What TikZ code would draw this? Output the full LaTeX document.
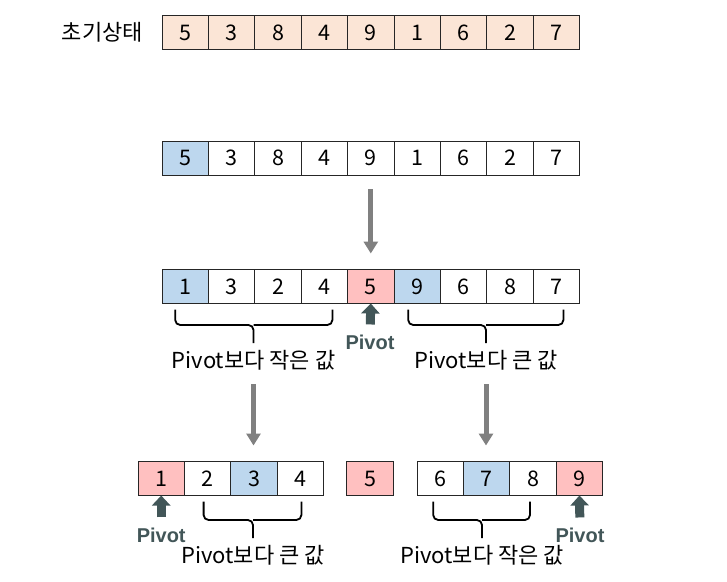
\documentclass[tikz,border=0pt]{standalone}
\usepackage{fontspec}
\setmainfont{Noto Sans CJK KR}
\newfontfamily\pivfont{Liberation Sans}
\usetikzlibrary{positioning,arrows.meta,calc}

\definecolor{peach}{HTML}{FBE5D6}
\definecolor{keyblue}{HTML}{BDD7EE}
\definecolor{pivpink}{HTML}{FFC0C0}
\definecolor{arrowgray}{HTML}{808080}
\definecolor{pivdark}{RGB}{66,86,88}

\begin{document}
\begin{tikzpicture}[
    x=1pt, y=-1pt,
    font=\fontsize{21.5}{26}\selectfont,
    cell/.style={draw=black!85, line width=0.9pt, minimum width=46.4pt, minimum height=34pt, inner sep=0pt, outer sep=0pt},
    init/.style={cell, fill=peach},
    key/.style={cell, fill=keyblue},
    piv/.style={cell, fill=pivpink},
    edge/.style={-{Triangle[width=14pt,length=12pt]}, line width=5pt, draw=arrowgray, shorten <=14pt, shorten >=16pt},
    pivarrow/.style={-{Triangle[width=18pt,length=10pt]}, line width=9pt, draw=pivdark, shorten <=10pt, shorten >=0pt},
    pivot/.style={font=\pivfont\bfseries\fontsize{20}{24}\selectfont, text=pivdark, inner sep=0pt},
    brace/.style={line width=1.8pt, rounded corners=5pt},
    note/.style={inner sep=0pt, font=\fontsize{22}{26}\selectfont}
]
\useasboundingbox (0,0) rectangle (727,581);

% initial state
\node[init] (i1) at (185.2,32.5) {5};
\node[init, right=0pt of i1] (i2) {3};
\node[init, right=0pt of i2] (i3) {8};
\node[init, right=0pt of i3] (i4) {4};
\node[init, right=0pt of i4] (i5) {9};
\node[init, right=0pt of i5] (i6) {1};
\node[init, right=0pt of i6] (i7) {6};
\node[init, right=0pt of i7] (i8) {2};
\node[init, right=0pt of i8] (i9) {7};
\node[note, left=19pt of i1] (title) {초기상태};

% choose key
\node[key] (a1) at (185.2,158) {5};
\node[cell, right=0pt of a1] (a2) {3};
\node[cell, right=0pt of a2] (a3) {8};
\node[cell, right=0pt of a3] (a4) {4};
\node[cell, right=0pt of a4] (a5) {9};
\node[cell, right=0pt of a5] (a6) {1};
\node[cell, right=0pt of a6] (a7) {6};
\node[cell, right=0pt of a7] (a8) {2};
\node[cell, right=0pt of a8] (a9) {7};

% first partition
\node[key] (b1) at (185.2,286.5) {1};
\node[cell, right=0pt of b1] (b2) {3};
\node[cell, right=0pt of b2] (b3) {2};
\node[cell, right=0pt of b3] (b4) {4};
\node[piv, right=0pt of b4] (b5) {5};
\node[key, right=0pt of b5] (b6) {9};
\node[cell, right=0pt of b6] (b7) {6};
\node[cell, right=0pt of b7] (b8) {8};
\node[cell, right=0pt of b8] (b9) {7};

\node[pivot] (pvA) at (370,342) {Pivot};
\draw[pivarrow] (pvA.north) -- (b5.south);

\coordinate (tipA) at (253.5,343);
\draw[brace] ($(b1.south)+(-10,6)$) |- ($(tipA)+(0,-18)$) -- (tipA);
\draw[brace] ($(b4.south)+(8,6)$) |- ($(tipA)+(0,-18)$);
\node[note, below=7pt of tipA] (lowA) {Pivot보다 작은 값};

\coordinate (tipB) at (486,343);
\draw[brace] ($(b6.south)+(-9,6)$) |- ($(tipB)+(0,-18)$) -- (tipB);
\draw[brace] ($(b9.south)+(7,6)$) |- ($(tipB)+(0,-18)$);
\node[note, below=7pt of tipB] (highA) {Pivot보다 큰 값};

% second partition
\node[piv] (l1) at (161.2,478.5) {1};
\node[cell, right=0pt of l1] (l2) {2};
\node[key, right=0pt of l2] (l3) {3};
\node[cell, right=0pt of l3] (l4) {4};

\node[piv] (m) at (370,478.5) {5};

\node[cell] (r1) at (440.2,478.5) {6};
\node[key, right=0pt of r1] (r2) {7};
\node[cell, right=0pt of r2] (r3) {8};
\node[piv, right=0pt of r3] (r4) {9};

\node[pivot] (pvB) at (161.2,535) {Pivot};
\draw[pivarrow] (pvB.north) -- (l1.south);
\node[pivot] (pvC) at (580,535) {Pivot};
\draw[pivarrow] (pvC.north) -- (r4.south);

\coordinate (tipC) at (253,538);
\draw[brace] ($(l2.south)+(-4,6)$) |- ($(tipC)+(0,-18)$) -- (tipC);
\draw[brace] ($(l4.south)+(1,6)$) |- ($(tipC)+(0,-18)$);
\node[note, below=7pt of tipC] (highB) {Pivot보다 큰 값};

\coordinate (tipD) at (482,538);
\draw[brace] ($(r1.south)+(-7,6)$) |- ($(tipD)+(0,-18)$) -- (tipD);
\draw[brace] ($(r3.south)+(-3,6)$) |- ($(tipD)+(0,-18)$);
\node[note, below=7pt of tipD] (lowB) {Pivot보다 작은 값};

\draw[edge] (a5) -- (b5);
\draw[edge] (lowA.south) -- (lowA.south |- l3.north);
\draw[edge] (highA.south) -- (highA.south |- r2.north);
\end{tikzpicture}
\end{document}
